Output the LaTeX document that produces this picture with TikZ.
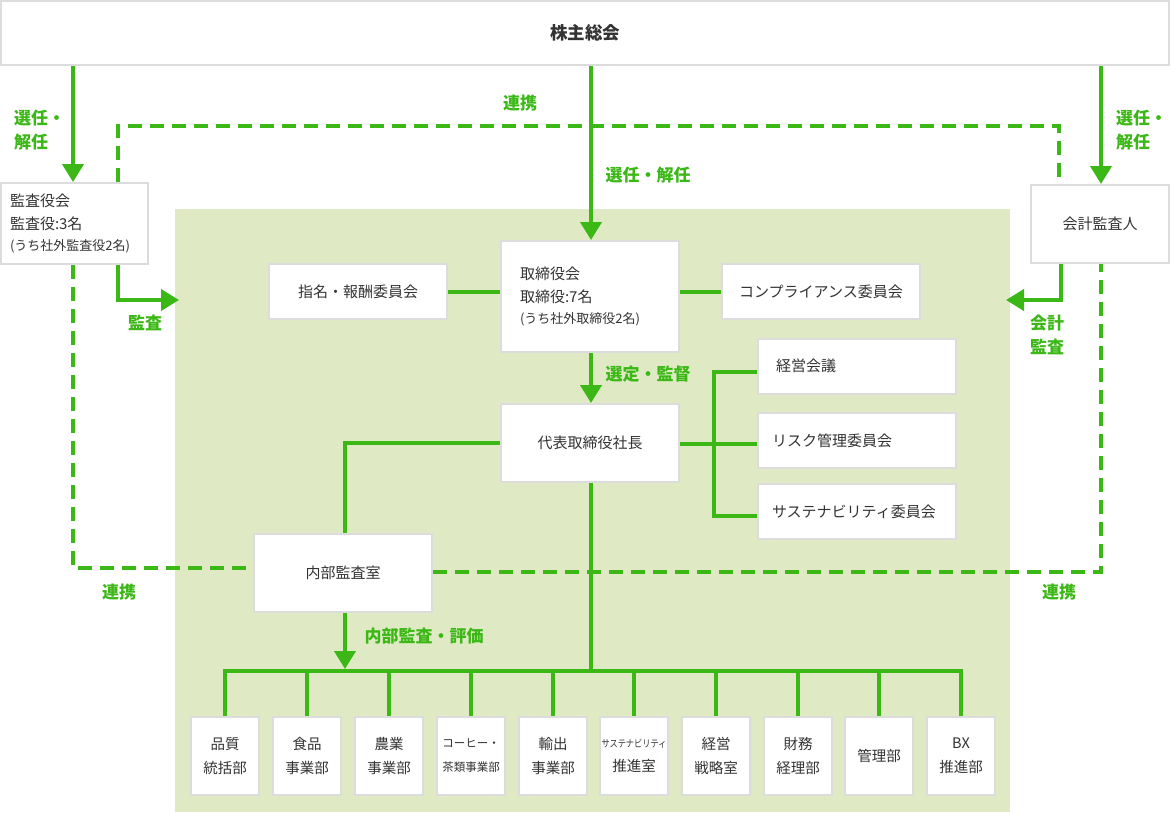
\documentclass[tikz,border=0pt]{standalone}
\usepackage{fontspec}
\setmainfont{Noto Sans CJK JP}
\usetikzlibrary{arrows.meta}
\definecolor{grn}{RGB}{59,184,22}
\definecolor{bgc}{RGB}{223,234,196}
\definecolor{bdr}{RGB}{220,220,220}
\definecolor{txt}{RGB}{51,51,51}
\begin{document}
\begin{tikzpicture}[x=1pt,y=-1pt,
  box/.style={draw=bdr, line width=2pt, fill=white, text=txt, inner sep=0pt,
    font=\fontsize{15pt}{23pt}\selectfont, align=center},
  bbox/.style={box, minimum width=68pt, minimum height=78pt, font=\fontsize{14.5pt}{24pt}\selectfont},
  ln/.style={draw=grn, line width=4pt},
  arr/.style={ln, -{Triangle[width=21pt,length=18pt]}},
  dsh/.style={draw=grn, line width=4pt, dash pattern=on 14pt off 8pt},
  lbl/.style={text=grn, font=\fontsize{17pt}{24pt}\selectfont\bfseries, inner sep=0pt}]
\useasboundingbox (0,0) rectangle (1170,812);
\fill[white] (0,0) rectangle (1170,812);
% green background area
\fill[bgc] (175,209) rectangle (1010,812);

% boxes
\node[box, minimum width=1168pt, minimum height=64pt, font=\fontsize{17.5pt}{24pt}\selectfont\bfseries] (kabu) at (585,33) {株主総会};
\node[box, minimum width=147pt, minimum height=81pt, text width=128pt, inner xsep=9.5pt, align=left] (kansa) at (74,223.5)
  {監査役会\\監査役:3名\\[-2pt]{\fontsize{13pt}{18pt}\selectfont (うち社外監査役2名)}};
\node[box, minimum width=138pt, minimum height=78pt] (kaikei) at (1100,224) {会計監査人};
\node[box, minimum width=178pt, minimum height=111pt, text width=140pt, inner xsep=19pt, align=left] (tori) at (590,296.5)
  {取締役会\\取締役:7名\\[-2pt]{\fontsize{13pt}{18pt}\selectfont (うち社外取締役2名)}};
\node[box, minimum width=178pt, minimum height=55pt] (shimei) at (358,291.5) {指名・報酬委員会};
\node[box, minimum width=198pt, minimum height=55pt] (comp) at (821,291.5) {コンプライアンス委員会};
\node[box, minimum width=178pt, minimum height=78pt] (daihyo) at (590,443) {代表取締役社長};
\node[box, minimum width=198pt, minimum height=55pt, text width=170pt, align=left] (keiei) at (857,366) {\hspace*{4pt}経営会議};
\node[box, minimum width=198pt, minimum height=55pt, text width=170pt, align=left] (risk) at (857,440.5) {リスク管理委員会};
\node[box, minimum width=198pt, minimum height=55pt, text width=170pt, align=left] (sus) at (857,511.5) {サステナビリティ委員会};
\node[box, minimum width=178pt, minimum height=78pt] (naibu) at (343,573) {内部監査室};

% bottom departments
\node[bbox] (b1) at (225,756) {品質\\統括部};
\node[bbox] (b2) at (307,756) {食品\\事業部};
\node[bbox] (b3) at (389,756) {農業\\事業部};
\node[bbox] (b4) at (471,756) {{\fontsize{11.5pt}{24pt}\selectfont コーヒー・}\\{\fontsize{11.5pt}{16pt}\selectfont 茶類事業部}};
\node[bbox] (b5) at (553,756) {輸出\\事業部};
\node[bbox] (b6) at (634,756) {{\fontsize{10pt}{24pt}\selectfont\addfontfeatures{FakeStretch=0.82} サステナビリティ}\\推進室};
\node[bbox] (b7) at (716,756) {経営\\戦略室};
\node[bbox] (b8) at (798,756) {財務\\経理部};
\node[bbox] (b9) at (879,756) {管理部};
\node[bbox] (b10) at (961,756) {BX\\推進部};

% coordinates
\coordinate (a1) at (179,300);
\coordinate (m1) at (118,300);
\coordinate (a2) at (1006,300);
\coordinate (k1) at (1061,300);
\coordinate (dTL) at (118,126);
\coordinate (dTR) at (1059,126);
\coordinate (dBL) at (73,568);
\coordinate (dBR) at (1101,572);
\coordinate (c1) at (714,372);
\coordinate (c3) at (714,516);
\coordinate (bh) at (591,671);
\coordinate (ia) at (345,669);

% solid arrows from shareholders
\draw[arr] (kabu.south -| 73,0) -- (kansa.north -| 73,0);
\draw[arr] (kabu.south -| 591,0) -- (tori.north -| 591,0);
\draw[arr] (kabu.south -| 1101,0) -- (kaikei.north -| 1101,0);

% audit arrows
\draw[arr] (m1 |- kansa.south) -- (m1) -- (a1);
\draw[arr] (k1 |- kaikei.south) -- (k1) -- (a2);

% dashed cooperation lines
\draw[dsh] (dTL |- kansa.north) -- (dTL) -- (dTR) -- (dTR |- kaikei.north);
\draw[dsh] (dBL |- kansa.south) -- (dBL) -- (dBL -| naibu.west);
\draw[dsh] (naibu.east |- dBR) -- (dBR) -- (dBR |- kaikei.south);

% board connections
\draw[ln] (shimei.east) -- (shimei.east -| tori.west);
\draw[ln] (tori.east |- comp.west) -- (comp.west);
\draw[arr] (tori.south -| 591,0) -- (daihyo.north -| 591,0);

% committees
\draw[ln] (keiei.west |- c1) -- (c1) -- (c3) -- (sus.west |- c3);
\draw[ln] (daihyo.east |- 0,444) -- (risk.west |- 0,444);

% internal audit
\draw[ln] (daihyo.west) -| (naibu.north -| 345,0);
\draw[arr] (naibu.south -| ia) -- (ia);

% departments tree
\draw[ln] (daihyo.south -| bh) -- (bh);
\draw[ln] (b1.north) |- (bh) -| (b10.north);
\foreach \i in {2,...,9} { \draw[ln] (b\i.north |- bh) -- (b\i.north); }

% labels
\node[lbl, anchor=west, align=left] (l1) at (14,130) {選任・\\解任};
\node[lbl, anchor=west, align=left] (l2) at (1116,130) {選任・\\解任};
\node[lbl] (l3) at (648,175) {選任・解任};
\node[lbl] (l4) at (520,103) {連携};
\node[lbl] (l5) at (145,323) {監査};
\node[lbl, anchor=west, align=left] (l6) at (1030,335) {会計\\監査};
\node[lbl] (l7) at (648,374) {選定・監督};
\node[lbl] (l8) at (424,636) {内部監査・評価};
\node[lbl] (l9) at (119,592) {連携};
\node[lbl] (l10) at (1059,592) {連携};
\end{tikzpicture}
\end{document}
